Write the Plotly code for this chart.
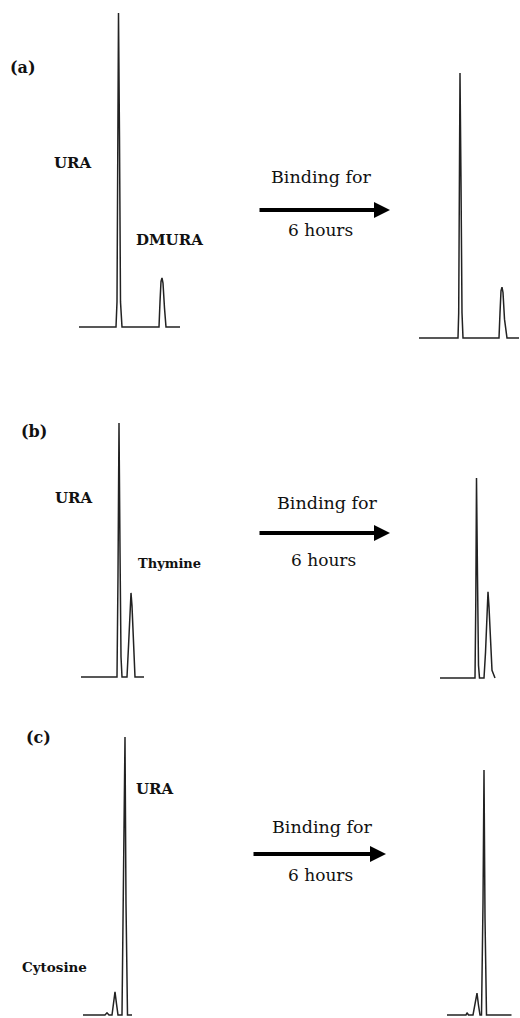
import plotly.graph_objects as go

W, H = 520, 1018

# ---------------- data: retention time (min) vs relative signal (% of URA before binding) -------------
# (a) URA + DMURA
a_before_t = [0.0, 3.7, 3.8, 3.9, 3.95, 4.05, 4.15, 4.3, 8.0, 8.1, 8.2, 8.3, 8.4, 8.55, 8.7, 10.1]
a_before_y = [0.0, 0.0, 8.0, 60.0, 100.0, 60.0, 8.0, 0.0, 0.0, 8.0, 14.5, 15.6, 14.0, 6.0, 0.0, 0.0]
a_after_t = [0.0, 3.9, 3.97, 4.05, 4.1, 4.2, 4.3, 4.4, 8.0, 8.1, 8.2, 8.3, 8.4, 8.55, 8.8, 10.0]
a_after_y = [0.0, 0.0, 8.0, 55.0, 84.4, 50.0, 8.0, 0.0, 0.0, 8.0, 15.0, 16.2, 14.5, 6.0, 0.0, 0.0]
# (b) URA + Thymine
b_before_t = [0.0, 3.6, 3.7, 3.8, 3.9, 4.0, 4.1, 4.6, 4.75, 4.9, 5.0, 5.1, 5.25, 5.4, 6.3]
b_before_y = [0.0, 0.0, 40.0, 100.0, 50.0, 8.0, 0.0, 0.0, 12.0, 30.0, 33.1, 28.0, 10.0, 0.0, 0.0]
b_after_t = [0.0, 3.5, 3.58, 3.65, 3.75, 3.85, 3.95, 4.4, 4.55, 4.7, 4.8, 4.9, 5.05, 5.2, 5.5]
b_after_y = [0.0, 0.0, 30.0, 78.7, 40.0, 5.0, 0.0, 0.0, 10.0, 28.0, 33.9, 28.0, 12.0, 3.0, 0.0]
# (c) Cytosine + URA
c_before_t = [0.0, 2.2, 2.4, 2.6, 2.9, 3.05, 3.2, 3.35, 3.5, 3.9, 4.05, 4.2, 4.3, 4.45, 4.9]
c_before_y = [0.0, 0.0, 0.8, 0.0, 0.0, 5.0, 8.3, 4.0, 0.0, 0.0, 45.0, 100.0, 40.0, 0.0, 0.0]
c_after_t = [0.0, 1.9, 2.0, 2.15, 2.6, 2.8, 3.0, 3.15, 3.3, 3.45, 3.6, 3.7, 3.8, 3.95, 6.45]
c_after_y = [0.0, 0.0, 0.8, 0.0, 0.0, 4.0, 7.9, 3.5, 0.0, 0.0, 40.0, 88.1, 35.0, 0.0, 0.0]

panel_labels = ["(a)", "(b)", "(c)"]
peak_labels = ["URA", "DMURA", "URA", "Thymine", "URA", "Cytosine"]
arrow_text_top = "Binding for"
arrow_text_bottom = "6 hours"

series = [
    (a_before_t, a_before_y), (a_after_t, a_after_y),
    (b_before_t, b_before_y), (b_after_t, b_after_y),
    (c_before_t, c_before_y), (c_after_t, c_after_y),
]

# ---------------- layout (pixel placement of each chromatogram) ----------------
# (x pixel of t=0, px per minute, baseline pixel y, px per % unit)
placement = [
    (79, 10.0, 327, 3.14), (419, 10.0, 338, 3.14),
    (81, 10.0, 677, 2.54), (440, 10.0, 678, 2.54),
    (83, 10.0, 1015, 2.78), (447, 10.0, 1015, 2.78),
]

LINE = "#222222"
fig = go.Figure()
layout_axes = {}
for i, ((t, y), (x0, ppm, yb, ppu)) in enumerate(zip(series, placement), start=1):
    tmax = max(t)
    left = x0 - 3
    right = min(x0 + tmax * ppm + 3, W)
    bottom = min(yb + 2.5, H)
    top = max(yb - 100 * ppu - 5, 0)
    xr = [(left - x0) / ppm, (right - x0) / ppm]
    yr = [(yb - bottom) / ppu, (yb - top) / ppu]
    xn = "x" if i == 1 else f"x{i}"
    yn = "y" if i == 1 else f"y{i}"
    fig.add_trace(go.Scatter(x=t, y=y, mode="lines", xaxis=xn, yaxis=yn,
                             line=dict(color=LINE, width=1.5), showlegend=False,
                             hoverinfo="skip"))
    kx = "xaxis" if i == 1 else f"xaxis{i}"
    ky = "yaxis" if i == 1 else f"yaxis{i}"
    layout_axes[kx] = dict(domain=[left / W, right / W], range=xr, visible=False,
                           anchor=yn, fixedrange=True)
    layout_axes[ky] = dict(domain=[1 - bottom / H, 1 - top / H], range=yr, visible=False,
                           anchor=xn, fixedrange=True)

fig.update_layout(**layout_axes)

def P(px, py):
    return px / W, 1 - py / H

annotations = []
SERIF = "DejaVu Serif"

def txt(s, px, py, size, bold=False):
    x, y = P(px, py)
    annotations.append(dict(text=("<b>" + s + "</b>") if bold else s, x=x, y=y,
                            xref="paper", yref="paper", showarrow=False,
                            xanchor="center", yanchor="middle",
                            font=dict(family=SERIF, size=size, color="#111")))

# panel letters
for s, (px, py) in zip(panel_labels, [(23, 68), (34, 432), (38, 737)]):
    txt(s, px, py, 16, bold=True)

# peak labels
label_pos = [(73, 163), (169, 240), (74, 498), (169, 563), (155, 789), (54, 967)]
label_size = [15, 15, 15, 13, 15, 13.5]
for s, (px, py), sz in zip(peak_labels, label_pos, label_size):
    txt(s, px, py, sz, bold=True)

# arrows with text
arrows = [((258, 390, 210), (321, 177), (320, 230)),
          ((258, 390, 533), (327, 503), (323, 560)),
          ((252, 386, 854), (322, 827), (320, 875))]
for (xa, xb, ya), tpos, bpos in arrows:
    hx, hy = P(xb, ya)
    annotations.append(dict(text="", x=hx, y=hy, ax=-(xb - xa), ay=0, xref="paper", yref="paper",
                            axref="pixel", ayref="pixel", showarrow=True, arrowhead=2,
                            arrowwidth=4, arrowsize=0.8, arrowcolor="#000"))
    txt(arrow_text_top, tpos[0], tpos[1], 17.5)
    txt(arrow_text_bottom, bpos[0], bpos[1], 17)

fig.update_layout(width=W, height=H, margin=dict(l=0, r=0, t=0, b=0),
                  paper_bgcolor="white", plot_bgcolor="rgba(0,0,0,0)",
                  annotations=annotations, showlegend=False)

fig.write_html("out.html", config={"displayModeBar": False})
